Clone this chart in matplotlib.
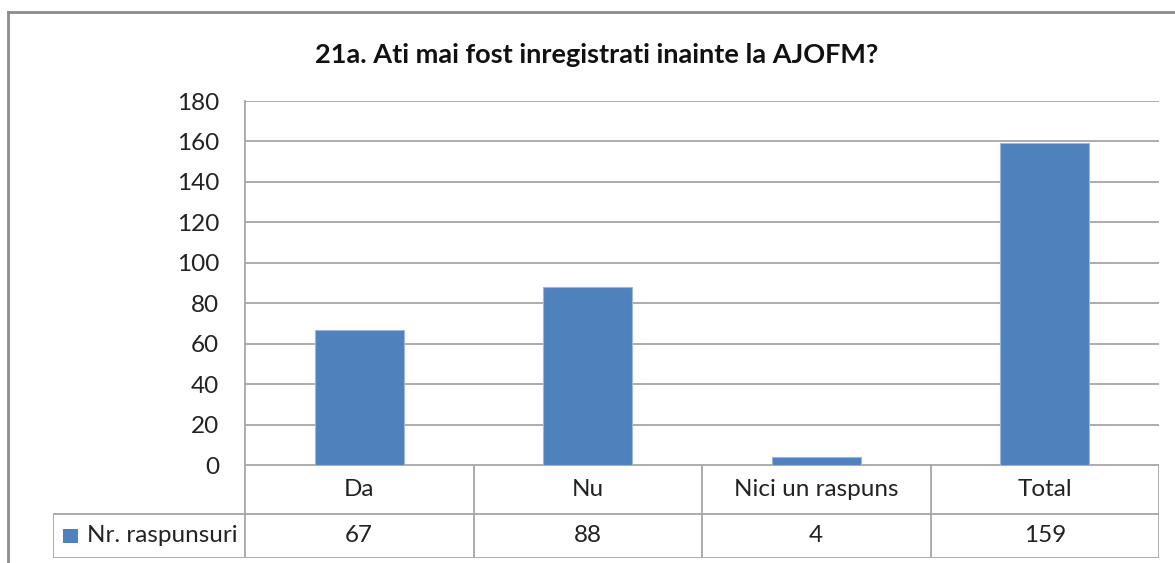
import matplotlib.pyplot as plt
from matplotlib.lines import Line2D
from matplotlib.patches import Rectangle

# Data
categories = ['Da', 'Nu', 'Nici un raspuns', 'Total']
values = [67, 88, 4, 159]
series_name = 'Nr. raspunsuri'
title = '21a. Ati mai fost inregistrati inainte la AJOFM?'

bar_color = '#4F81BD'
grid_color = '#A6A6A6'
font = ['Lato', 'DejaVu Sans']
plt.rcParams['font.family'] = font
fs = 17.5

W, H = 1175, 563
fig = plt.figure(figsize=(W / 100, H / 100), dpi=100)

# pixel layout helpers
px_left, px_right, px_top, px_bottom = 245, 1159, 101, 465
tab_left, tab_bottom = 53, 558

ax = fig.add_axes([px_left / W, 1 - px_bottom / H,
                   (px_right - px_left) / W, (px_bottom - px_top) / H])
x = range(len(categories))
ax.bar(x, values, width=0.39, color=bar_color, edgecolor='#9DB7DA',
       linewidth=0.8, zorder=3)
ax.set_xlim(-0.5, len(categories) - 0.5)
ax.set_ylim(0, 180)
ax.set_yticks(range(0, 181, 20))
ax.yaxis.grid(True, color=grid_color, linewidth=1.3, zorder=0)
ax.set_xticks([])
for s in ['top', 'right', 'bottom']:
    ax.spines[s].set_visible(False)
ax.spines['left'].set_color(grid_color)
ax.spines['left'].set_linewidth(1.3)
ax.tick_params(axis='y', length=0, pad=18.5, labelsize=fs, labelcolor='#222222')

fig.text(597 / W, 1 - 55 / H, title, ha='center', va='center',
         fontsize=19.5, fontweight='bold', color='#111111')

# data table below the plot
cat_w = (px_right - px_left) / len(categories)
leg_w = (px_left - tab_left) / cat_w
tab = fig.add_axes([tab_left / W, 1 - tab_bottom / H,
                    (px_right - tab_left) / W, (tab_bottom - px_bottom) / H])
tab.set_xlim(-0.5 - leg_w, len(categories) - 0.5)
tab.set_ylim(0, 1)
tab.axis('off')
split = 44 / 93
lk = dict(color=grid_color, linewidth=1.3, solid_capstyle='butt')
tab.add_line(Line2D([-0.5, len(categories) - 0.5], [1, 1], **lk))
tab.add_line(Line2D([-0.5 - leg_w, len(categories) - 0.5], [split, split], **lk))
tab.add_line(Line2D([-0.5 - leg_w, len(categories) - 0.5], [0, 0], **lk))
tab.add_line(Line2D([-0.5 - leg_w, -0.5 - leg_w], [0, split], **lk))
for i in range(len(categories) + 1):
    tab.add_line(Line2D([i - 0.5, i - 0.5], [0, 1], **lk))
for i, (c, v) in enumerate(zip(categories, values)):
    tab.text(i, (1 + split) / 2, c, ha='center', va='center',
             fontsize=fs, color='#222222')
    tab.text(i, split / 2, str(v), ha='center', va='center',
             fontsize=fs, color='#222222')

# legend key inside the table
key_x = -0.5 - leg_w + 10 / cat_w
tab.add_patch(Rectangle((key_x, split / 2 - 0.08), 15 / cat_w, 0.16,
                        facecolor=bar_color, edgecolor='none'))
tab.text(key_x + 24 / cat_w, split / 2, series_name, ha='left', va='center',
         fontsize=fs, color='#222222')

# outer chart frame (cut off at right and bottom)
fig.add_artist(Line2D([8 / W, 1], [1 - 12 / H, 1 - 12 / H],
                      transform=fig.transFigure, color='#8C8C8C', linewidth=2))
fig.add_artist(Line2D([8 / W, 8 / W], [0, 1 - 12 / H],
                      transform=fig.transFigure, color='#8C8C8C', linewidth=2))

fig.savefig('out.png', dpi=100)
